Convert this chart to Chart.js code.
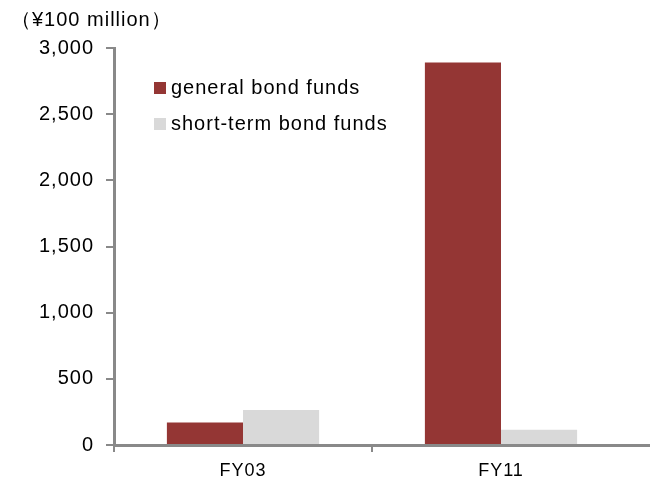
<!DOCTYPE html>
<html>
<head>
<meta charset="utf-8">
<script src="https://cdn.jsdelivr.net/npm/chart.js@4.4.1/dist/chart.umd.min.js"></script>
<style>
  html, body { margin: 0; padding: 0; background: #fff; }
  #wrap { width: 650px; height: 483px; }
</style>
</head>
<body>
<div id="wrap"><canvas id="myChart" width="650" height="483"></canvas></div>
<script>
// donnees (unite : 100 millions de yens)
const categories = ['FY03', 'FY11'];
const generalBond = [170, 2890];
const shortTermBond = [265, 115];
const seriesNames = ['general bond funds', 'short-term bond funds'];
const unitLabel = '（¥100 million）';

const axisColor = '#898989';
const fontFamily = '"Liberation Sans", Arial, sans-serif';

// espacement des lettres un peu plus large, comme dans Excel
const spacing = {
  id: 'spacing',
  beforeUpdate(chart) { chart.ctx.letterSpacing = '1px'; },
  beforeDraw(chart) { chart.ctx.letterSpacing = '1px'; }
};

// legende, unite et prolongement de l'axe x dessines a la main
const extras = {
  id: 'extras',
  afterDraw(chart) {
    const ctx = chart.ctx;
    const area = chart.chartArea;
    ctx.save();
    ctx.letterSpacing = '1px';

    // l'axe x continue jusqu'au bord droit
    const yAxis = Math.round(chart.scales.x.top) + 0.5;
    ctx.strokeStyle = axisColor;
    ctx.lineWidth = 3;
    ctx.beginPath();
    ctx.moveTo(area.right - 2, yAxis);
    ctx.lineTo(chart.width, yAxis);
    ctx.stroke();

    ctx.font = '20px ' + fontFamily;
    ctx.fillStyle = '#000';
    ctx.textBaseline = 'middle';
    ctx.fillText(unitLabel, 11, 20);

    chart.data.datasets.forEach(function(ds, i) {
      const base = 94 + i * 36;
      ctx.fillStyle = ds.backgroundColor;
      ctx.fillRect(154, base - 12, 12, 12);
      ctx.fillStyle = '#000';
      ctx.font = '20px ' + fontFamily;
      ctx.textBaseline = 'alphabetic';
      ctx.fillText(ds.label, 171, base);
    });
    ctx.restore();
  }
};

const config = {
  type: 'bar',
  data: {
    labels: categories,
    datasets: [{
      label: seriesNames[0],
      data: generalBond,
      backgroundColor: '#943634'
    }, {
      label: seriesNames[1],
      data: shortTermBond,
      backgroundColor: '#D9D9D9'
    }]
  },
  options: {
    responsive: false,
    animation: false,
    layout: { padding: { top: 48, right: 20, left: 0, bottom: 0 } },
    datasets: {
      bar: { categoryPercentage: 0.59, barPercentage: 1.0 }
    },
    plugins: {
      legend: { display: false },
      tooltip: { enabled: false }
    },
    scales: {
      x: {
        grid: {
          drawOnChartArea: false, drawTicks: true, tickLength: 7, lineWidth: 2, offset: true,
          color: function(c) { return c.tick ? axisColor : 'rgba(0,0,0,0)'; }
        },
        border: { color: axisColor, width: 3 },
        ticks: { color: '#000', font: { family: fontFamily, size: 18 }, padding: 8 },
        afterFit: function(scale) { scale.height = 38; }
      },
      y: {
        min: 0,
        max: 3000,
        grid: { drawOnChartArea: false, drawTicks: true, tickLength: 8, color: axisColor, lineWidth: 2 },
        border: { color: axisColor, width: 3 },
        ticks: {
          stepSize: 500,
          color: '#000',
          padding: 12,
          font: { family: fontFamily, size: 20 },
          callback: function(v) { return v.toLocaleString('en-US'); }
        },
        afterFit: function(scale) { scale.width = 114; }
      }
    }
  },
  plugins: [spacing, extras]
};

const chart = new Chart(document.getElementById('myChart').getContext('2d'), config);
</script>
</body>
</html>
